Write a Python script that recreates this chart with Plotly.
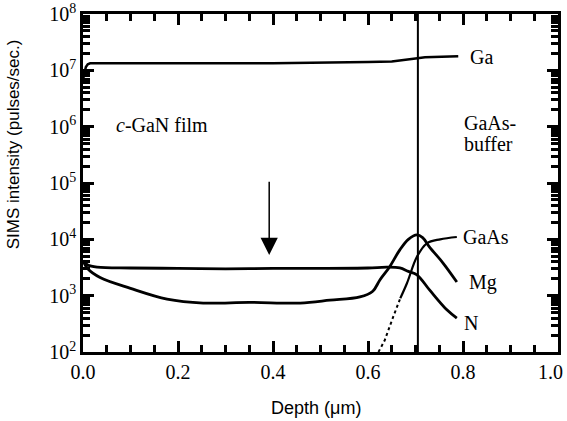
import plotly.graph_objects as go

# ---------------- data ----------------
ga_depth = [0.000, 0.003, 0.006, 0.010, 0.015, 0.03, 0.10, 0.20, 0.30, 0.40, 0.50, 0.60, 0.65, 0.68, 0.70, 0.72, 0.75, 0.79]
ga_int = [6.8e6, 9.0e6, 1.15e7, 1.28e7, 1.33e7, 1.33e7, 1.32e7, 1.32e7, 1.33e7, 1.34e7, 1.36e7, 1.40e7, 1.44e7, 1.52e7, 1.62e7, 1.70e7, 1.75e7, 1.78e7]

mg_depth = [0.000, 0.010, 0.036, 0.10, 0.177, 0.253, 0.35, 0.457, 0.52, 0.583, 0.61, 0.625, 0.645, 0.667, 0.685, 0.703, 0.715, 0.73, 0.758, 0.787]
mg_int = [4.2e3, 3.0e3, 2.1e3, 1.35e3, 870, 740, 760, 740, 830, 950, 1.2e3, 1.9e3, 3.2e3, 6.5e3, 1.0e4, 1.2e4, 1.07e4, 7.2e3, 3.8e3, 1.75e3]

n_depth = [0.000, 0.010, 0.030, 0.10, 0.20, 0.30, 0.40, 0.50, 0.60, 0.64, 0.667, 0.685, 0.703, 0.73, 0.766, 0.787]
n_int = [4.2e3, 3.5e3, 3.2e3, 3.1e3, 3.05e3, 3.0e3, 3.05e3, 3.05e3, 3.1e3, 3.2e3, 3.1e3, 2.7e3, 2.35e3, 1.25e3, 560, 400]

gaas_dot_depth = [0.622, 0.635, 0.653, 0.668]
gaas_dot_int = [100, 160, 420, 900]
gaas_depth = [0.668, 0.682, 0.703, 0.724, 0.752, 0.787]
gaas_int = [900, 1.66e3, 4.9e3, 8.5e3, 1.0e4, 1.1e4]

interface_depth = 0.705
arrow_depth = 0.392

y_exps = [2, 3, 4, 5, 6, 7, 8]

SERIF = "Liberation Serif"
SANS = "Liberation Sans"
TICK = "black"

fig = go.Figure()
line_style = dict(color="black", width=2.8)
fig.add_trace(go.Scatter(x=ga_depth, y=ga_int, mode="lines", line=dict(color="black", width=2.5)))
fig.add_trace(go.Scatter(x=mg_depth, y=mg_int, mode="lines", line=line_style, line_shape="spline"))
fig.add_trace(go.Scatter(x=n_depth, y=n_int, mode="lines", line=line_style, line_shape="spline"))
fig.add_trace(go.Scatter(x=gaas_dot_depth, y=gaas_dot_int, mode="lines", line=dict(color="black", width=2, dash="dot")))
fig.add_trace(go.Scatter(x=gaas_depth, y=gaas_int, mode="lines", line=dict(color="black", width=2.2), line_shape="spline"))

fig.add_shape(type="line", xref="x", yref="paper", x0=interface_depth, x1=interface_depth, y0=0, y1=1,
              line=dict(color="black", width=2))

lab_font = dict(family=SERIF, size=20, color="black")
labels = [
    ("Ga", 0.810, 7.24),
    ("GaAs", 0.796, 4.04),
    ("Mg", 0.808, 3.24),
    ("N", 0.798, 2.51),
    ("<i>c</i>-GaN film", 0.066, 6.03),
    ("GaAs-", 0.798, 6.06),
    ("buffer", 0.798, 5.70),
]
for txt, xx, yy in labels:
    fig.add_annotation(x=xx, y=yy, xref="x", yref="y", text=txt, showarrow=False,
                       xanchor="left", yanchor="middle", font=lab_font)

# arrow
fig.add_annotation(x=arrow_depth, y=3.72, ax=arrow_depth, ay=5.05, xref="x", yref="y",
                   axref="x", ayref="y", text="", showarrow=True, arrowhead=2,
                   arrowsize=2.3, arrowwidth=1.5, arrowcolor="black", standoff=0)

# axis titles
fig.add_annotation(x=0.49, y=-0.166, xref="paper", yref="paper", text="Depth (μm)", showarrow=False,
                   font=dict(family=SANS, size=18, color="black"), xanchor="center", yanchor="middle")
fig.add_annotation(x=-0.147, y=0.615, xref="paper", yref="paper", text="SIMS intensity (pulses/sec.)",
                   showarrow=False, textangle=-90,
                   font=dict(family=SANS, size=17, color="black"), xanchor="center", yanchor="middle")

minor_y = [k * 10 ** e for e in range(2, 8) for k in range(2, 10)]
NB = "\u00a0"
fig.update_layout(
    width=567, height=421,
    margin=dict(l=83, r=9, t=14, b=69),
    paper_bgcolor="white", plot_bgcolor="white",
    showlegend=False,
    font=dict(family=SERIF, size=20, color="black"),
    xaxis=dict(range=[0, 1], dtick=0.2, tickformat=".1f", ticks="inside", ticklen=11,
               tickwidth=3, tickcolor=TICK, showline=True, linecolor="black", linewidth=2.5,
               mirror="ticks", showgrid=False, zeroline=False, ticklabeloverflow="allow", automargin=False,
               labelalias={"1.0": "1.0" + NB * 3},
               tickfont=dict(family=SERIF, size=20, color="black"),
               minor=dict(ticks="inside", ticklen=7, tickwidth=2.5, tickcolor=TICK, dtick=0.05, showgrid=False)),
    yaxis=dict(type="log", range=[2, 8], tickvals=[10 ** e for e in y_exps],
               ticktext=["10<sup>%d</sup>" % e for e in y_exps],
               ticks="inside", ticklen=11, ticklabeloverflow="allow", automargin=False,
               tickwidth=3, tickcolor=TICK, showline=True, linecolor="black", linewidth=2.5,
               mirror="ticks", showgrid=False, zeroline=False,
               tickfont=dict(family=SERIF, size=20, color="black"),
               minor=dict(ticks="inside", ticklen=7, tickwidth=2.5, tickcolor=TICK, tickmode="array",
                          tickvals=minor_y, showgrid=False)),
)

fig.write_html("out.html")
